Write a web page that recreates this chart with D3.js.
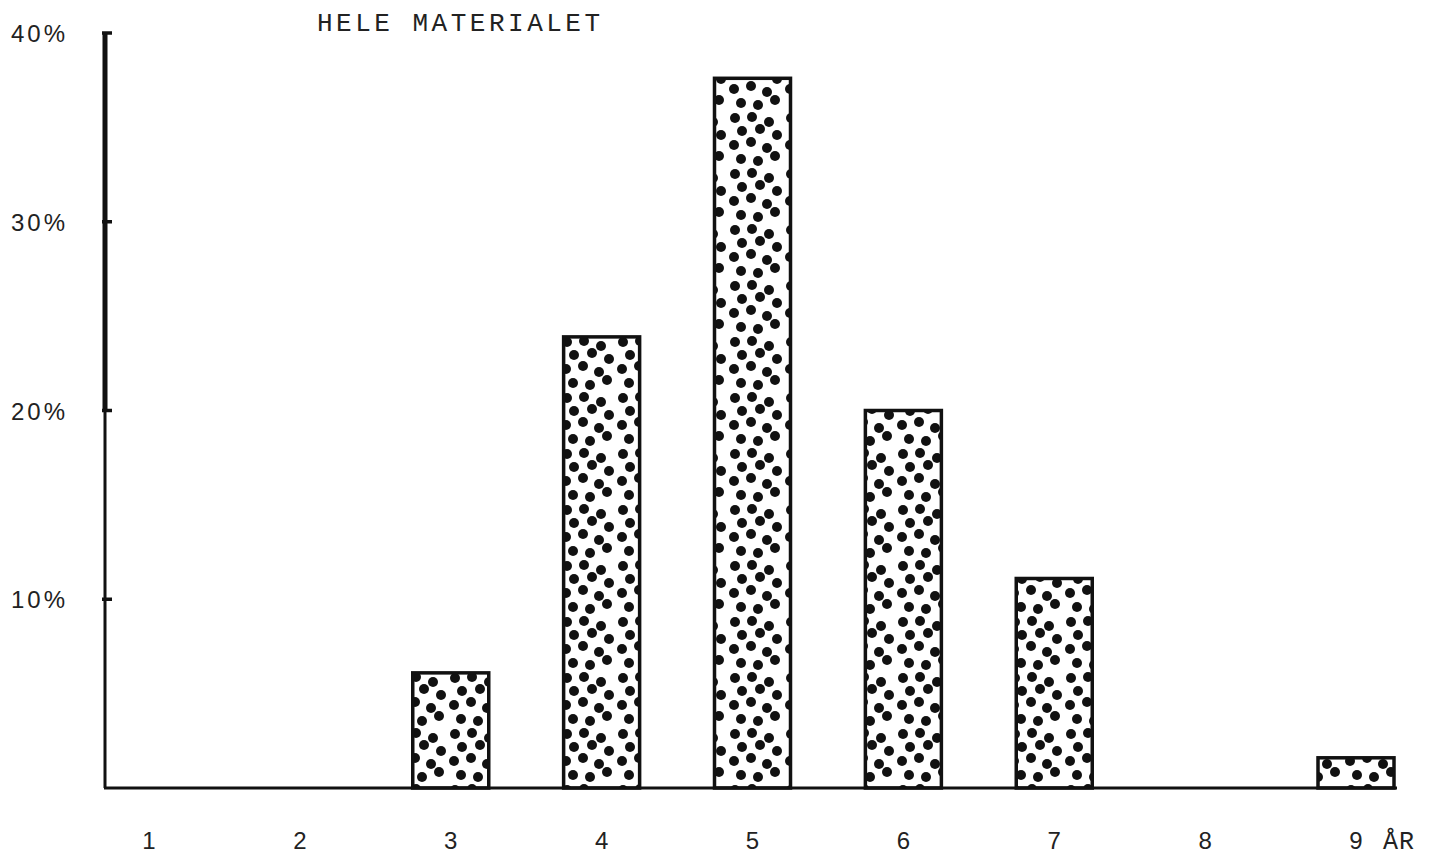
<!DOCTYPE html>
<html>
<head>
<meta charset="utf-8">
<script src="https://cdn.jsdelivr.net/npm/d3@7"></script>
<style>
  body { margin: 0; background: #fff; }
  svg { display: block; }
</style>
</head>
<body>
<div id="chart"></div>
<script>
// Age distribution, whole material (percent per year of age)
const categories = ["1", "2", "3", "4", "5", "6", "7", "8", "9"];
const percents = [0, 0, 6.1, 23.9, 37.6, 20.0, 11.1, 0, 1.6];
const yTicks = [10, 20, 30, 40];
const title = "HELE MATERIALET";
const unitLabel = "ÅR";

const W = 1431, H = 857;
const x0 = 105, yBase = 788, yTop = 33, xEnd = 1397;

const svg = d3.select("#chart")
    .append("svg")
        .attr("width", W)
        .attr("height", H);

// Dotted fill pattern (fixed, hand-placed dots)
const tile = 56;
const dots = [[7,6],[24,5],[41,10],[14,19],[32,17],[49,23],[6,33],[23,30],[39,36],[13,47],[30,49],[47,44]];
const pat = svg.append("defs").append("pattern")
    .attr("id", "dots")
    .attr("patternUnits", "userSpaceOnUse")
    .attr("width", tile)
    .attr("height", tile);
pat.selectAll("circle")
    .data(dots)
    .join("circle")
        .attr("cx", d => d[0])
        .attr("cy", d => d[1])
        .attr("r", 5)
        .attr("fill", "#111");

// Scales
const x = d3.scalePoint()
    .domain(categories)
    .range([149, 1356]);
const barW = 76;

const y = d3.scaleLinear()
    .domain([0, 40])
    .range([yBase, yTop]);

// Bars
svg.append("g")
    .selectAll("rect")
    .data(categories.map((c, i) => ({c: c, v: percents[i]})).filter(d => d.v > 0))
    .join("rect")
        .attr("x", d => x(d.c) - barW / 2)
        .attr("y", d => y(d.v))
        .attr("width", barW)
        .attr("height", d => y(0) - y(d.v))
        .attr("fill", "url(#dots)")
        .attr("stroke", "#111")
        .attr("stroke-width", 3.5);

// Y axis line (thicker in upper part, like the original)
svg.append("line")
    .attr("x1", x0).attr("x2", x0)
    .attr("y1", y(40)).attr("y2", y(20))
    .attr("stroke", "#111").attr("stroke-width", 5);
svg.append("line")
    .attr("x1", x0).attr("x2", x0)
    .attr("y1", y(20)).attr("y2", yBase)
    .attr("stroke", "#111").attr("stroke-width", 3);

// X axis line
svg.append("line")
    .attr("x1", x0 - 1).attr("x2", xEnd)
    .attr("y1", yBase).attr("y2", yBase)
    .attr("stroke", "#111").attr("stroke-width", 3);

// Y ticks + labels
const yt = svg.append("g");
yt.selectAll("line")
    .data(yTicks)
    .join("line")
        .attr("x1", x0 - 3).attr("x2", x0 + 7)
        .attr("y1", d => y(d)).attr("y2", d => y(d))
        .attr("stroke", "#111").attr("stroke-width", 3.5);
yt.selectAll("text")
    .data(yTicks)
    .join("text")
        .attr("x", 11)
        .attr("y", d => y(d) + 9)
        .attr("font-family", "Liberation Sans, Arial, sans-serif")
        .attr("font-size", 24)
        .attr("letter-spacing", 3)
        .attr("fill", "#222")
        .text(d => d + "%");

// X tick labels
svg.append("g")
    .selectAll("text")
    .data(categories)
    .join("text")
        .attr("x", d => x(d))
        .attr("y", 849)
        .attr("text-anchor", "middle")
        .attr("font-family", "Liberation Sans, Arial, sans-serif")
        .attr("font-size", 24)
        .attr("fill", "#222")
        .text(d => d);

// Unit label after last category
svg.append("text")
    .attr("x", x("9") + 27)
    .attr("y", 849)
    .attr("font-family", "Liberation Mono, Courier New, monospace")
    .attr("font-size", 25)
    .attr("letter-spacing", 1)
    .attr("fill", "#222")
    .text(unitLabel);

// Title
svg.append("text")
    .attr("x", 317)
    .attr("y", 31)
    .attr("font-family", "Liberation Mono, Courier New, monospace")
    .attr("font-size", 26)
    .attr("letter-spacing", 3.5)
    .attr("fill", "#222")
    .text(title);
</script>
</body>
</html>
